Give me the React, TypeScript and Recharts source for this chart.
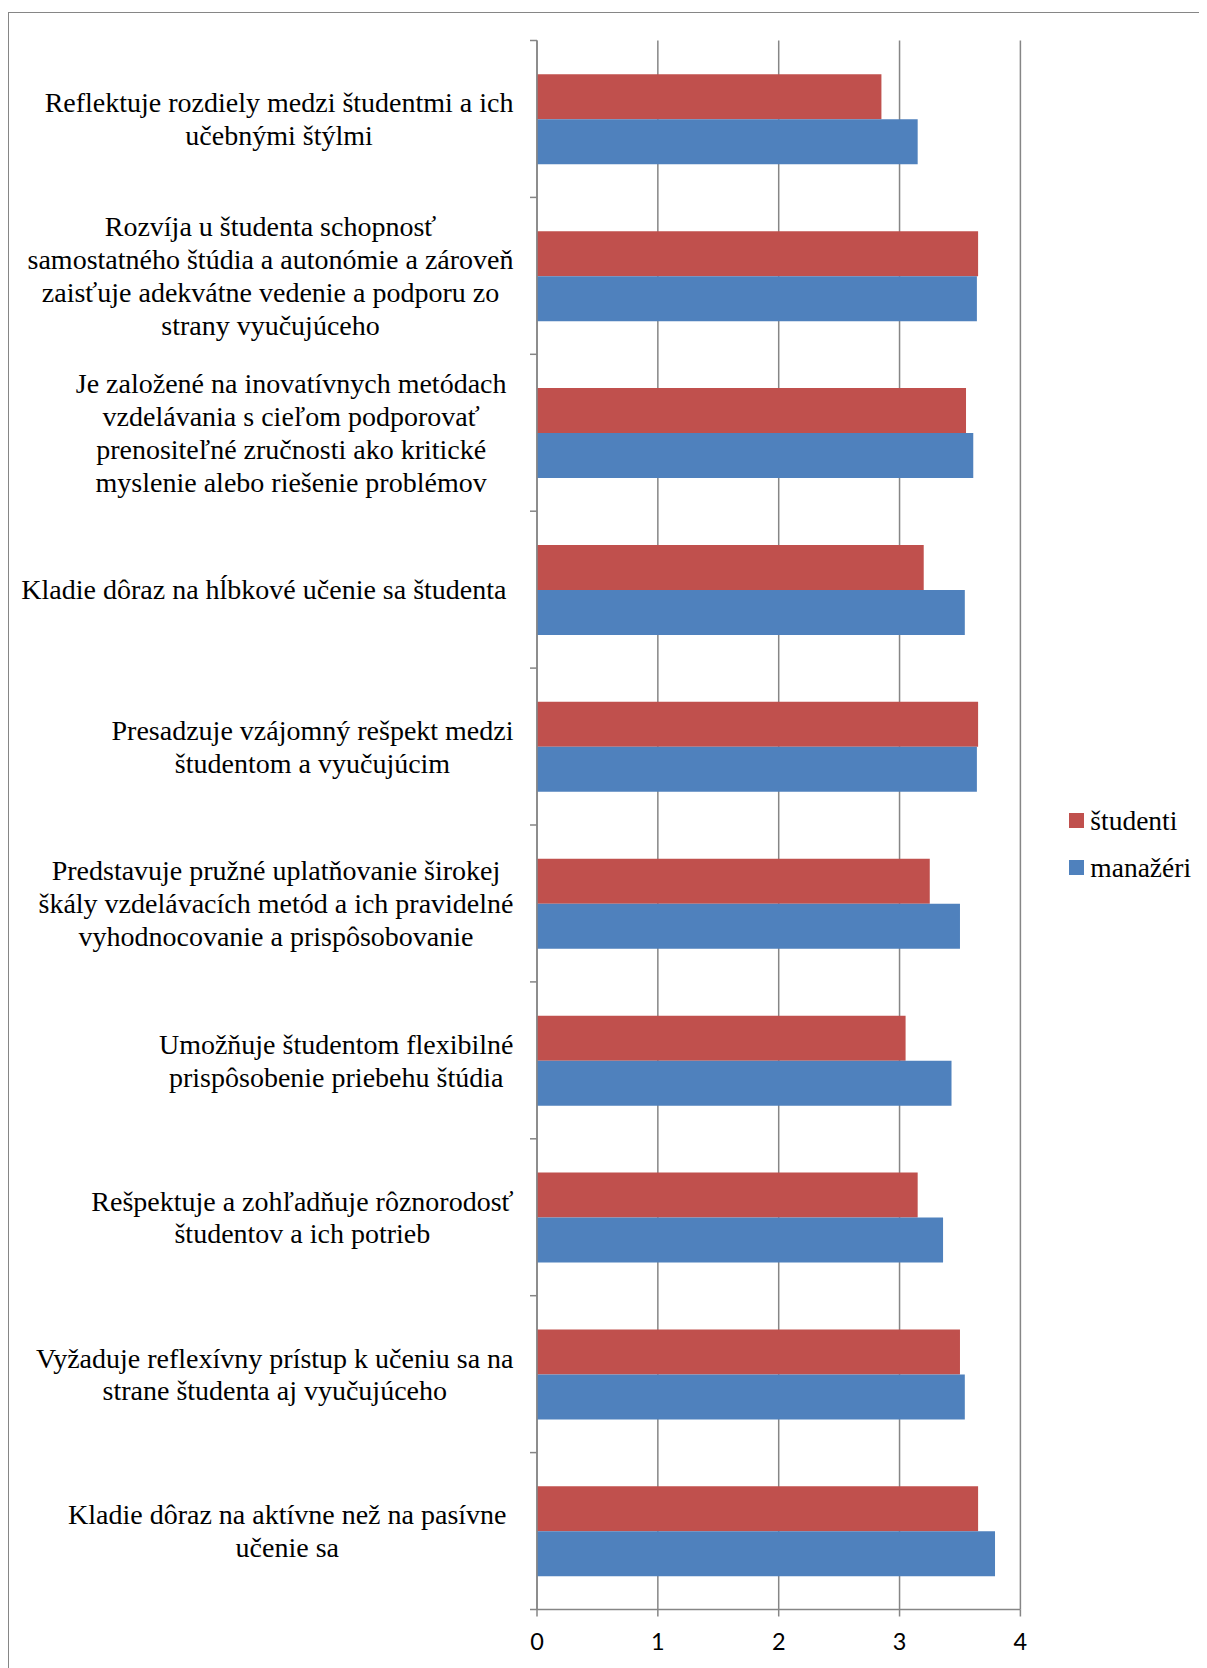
import React from "react";
import { Bar, BarChart, CartesianGrid, Legend, XAxis, YAxis } from "recharts";

// category labels, wrapped the way the source chart shows them
// (a trailing space is kept where the original wrap kept one)
const categories = [
  ["Reflektuje rozdiely medzi študentmi a ich", "učebnými štýlmi"],
  [
    "Rozvíja u študenta schopnosť",
    "samostatného štúdia a autonómie a zároveň",
    "zaisťuje adekvátne vedenie a podporu zo",
    "strany vyučujúceho",
  ],
  [
    "Je založené na inovatívnych metódach ",
    "vzdelávania s cieľom podporovať ",
    "prenositeľné zručnosti ako kritické ",
    "myslenie alebo riešenie problémov ",
  ],
  ["Kladie dôraz na hĺbkové učenie sa študenta "],
  ["Presadzuje vzájomný rešpekt medzi", "študentom a vyučujúcim"],
  [
    "Predstavuje pružné uplatňovanie širokej",
    "škály vzdelávacích metód a ich pravidelné",
    "vyhodnocovanie a prispôsobovanie",
  ],
  ["Umožňuje študentom flexibilné", "prispôsobenie priebehu štúdia"],
  ["Rešpektuje a zohľadňuje rôznorodosť", "študentov a ich potrieb"],
  ["Vyžaduje reflexívny prístup k učeniu sa na", "strane študenta aj vyučujúceho"],
  ["Kladie dôraz na aktívne než na pasívne ", "učenie sa "],
];

const studenti = [2.85, 3.65, 3.55, 3.2, 3.65, 3.25, 3.05, 3.15, 3.5, 3.65];
const manazeri = [3.15, 3.64, 3.61, 3.54, 3.64, 3.5, 3.43, 3.36, 3.54, 3.79];

const xTicks = [0, 1, 2, 3, 4];
const seriesNames = ["študenti", "manažéri"];

const RED = "#C0504D";
const BLUE = "#4F81BD";
const GRID = "#868686";
const SERIF = '"Liberation Serif", "Times New Roman", serif';
const LABEL_SIZE = 28;
const LINE_H = 32.8;

const W = 1197;
const H = 1654;
const MARGIN = { top: 27.5, right: 185.6, bottom: 17.5, left: 0 };
const Y_AXIS_W = 528;
const X_AXIS_H = 40;
const BAND_HALF = (H - MARGIN.top - MARGIN.bottom - X_AXIS_H) / categories.length / 2;

const data = categories.map((lines, i) => ({
  label: lines.join("\n"),
  studenti: studenti[i],
  manazeri: manazeri[i],
}));

let ctx: CanvasRenderingContext2D | null = null;
function measure(s: string) {
  if (!ctx) {
    ctx = document.createElement("canvas").getContext("2d");
  }
  if (!ctx) return s.length * LABEL_SIZE * 0.42;
  ctx.font = `${LABEL_SIZE}px ${SERIF}`;
  return ctx.measureText(s).width;
}

function CategoryTick(props: any) {
  const { x, y, payload, index } = props;
  const lines = String(payload.value).split("\n");
  const half = payload.offset || BAND_HALF;
  const maxW = Math.max(...lines.map(measure));
  const cx = x - 23.5 - maxW / 2;
  const top = y - ((lines.length - 1) * LINE_H) / 2;
  const last = index === categories.length - 1;
  return (
    <g>
      <line x1={x - 7} x2={x} y1={y - half} y2={y - half} stroke={GRID} strokeWidth={1.5} />
      {last && <line x1={x - 7} x2={x} y1={y + half} y2={y + half} stroke={GRID} strokeWidth={1.5} />}
      <text
        textAnchor="middle"
        fontFamily={SERIF}
        fontSize={LABEL_SIZE}
        fill="#000"
        xmlSpace="preserve"
        style={{ whiteSpace: "pre" }}
      >
        {lines.map((l, i) => (
          <tspan key={i} x={cx} y={top + i * LINE_H} dy="0.35em">
            {l}
          </tspan>
        ))}
      </text>
    </g>
  );
}

function LegendBox() {
  const cols = [RED, BLUE];
  return (
    <div style={{ fontFamily: SERIF, fontSize: 27.5, color: "#000" }}>
      {seriesNames.map((n, i) => (
        <div key={n} style={{ display: "flex", alignItems: "center", height: 47 }}>
          <span style={{ width: 14.5, height: 14.5, background: cols[i], marginRight: 6.5 }} />
          <span>{n}</span>
        </div>
      ))}
    </div>
  );
}

export default function App() {
  return (
    <div style={{ paddingTop: 4 }}>
      <div
        style={{
          width: 1198,
          height: 1655,
          borderTop: `1px solid ${GRID}`,
          borderLeft: `1px solid ${GRID}`,
          overflow: "hidden",
          background: "#fff",
        }}
      >
        <BarChart
          width={W}
          height={H}
          data={data}
          layout="vertical"
          margin={MARGIN}
          barCategoryGap="21.5%"
          barGap={0}
        >
          <CartesianGrid horizontal={false} stroke={GRID} strokeWidth={1.5} />
          <XAxis
            type="number"
            domain={[0, 4]}
            ticks={xTicks}
            height={X_AXIS_H}
            stroke={GRID}
            strokeWidth={1.5}
            tickSize={7}
            tickMargin={16.5}
            tick={{ fill: "#000", fontSize: 23.5, fontFamily: "Lato, Carlito, sans-serif" }}
          />
          <YAxis
            type="category"
            dataKey="label"
            width={Y_AXIS_W}
            interval={0}
            stroke={GRID}
            strokeWidth={1.5}
            tickLine={false}
            tickSize={0}
            tickMargin={0}
            tick={<CategoryTick />}
          />
          <Legend
            layout="vertical"
            align="center"
            verticalAlign="middle"
            wrapperStyle={{ left: 1060.3, top: 784, width: 130 }}
            content={<LegendBox />}
          />
          <Bar dataKey="studenti" name={seriesNames[0]} fill={RED} isAnimationActive={false} />
          <Bar dataKey="manazeri" name={seriesNames[1]} fill={BLUE} isAnimationActive={false} />
        </BarChart>
      </div>
    </div>
  );
}
